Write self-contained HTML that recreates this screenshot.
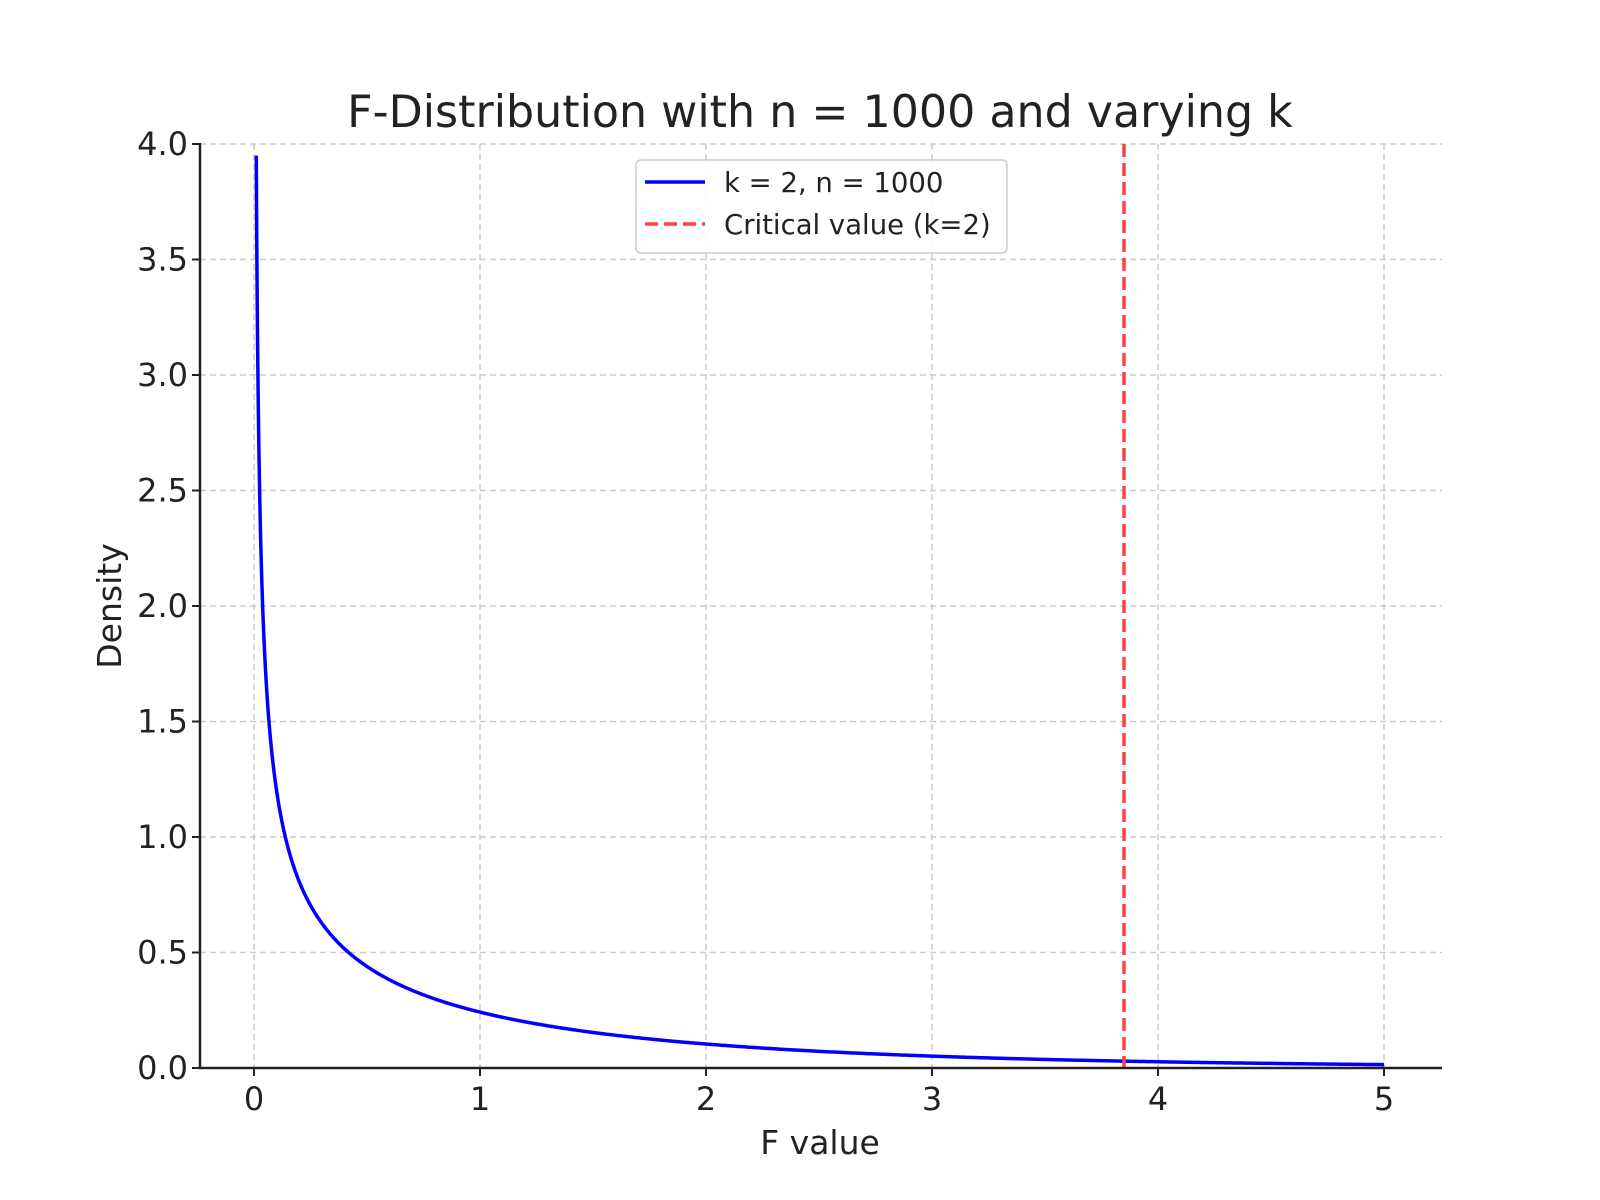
<!DOCTYPE html>
<html><head><meta charset="utf-8"><style>body{margin:0;background:#fff}svg{display:block}text{font-family:"DejaVu Sans","Liberation Sans",sans-serif;fill:#222}</style></head>
<body>
<svg id="s" width="1600" height="1200" viewBox="0 0 1600 1200" xmlns="http://www.w3.org/2000/svg">
<rect width="1600" height="1200" fill="#fff"/>
<g id="grid" stroke="#ccc" stroke-width="1.5" stroke-dasharray="6,4"></g>
<path id="curve" fill="none" stroke="#0000ff" stroke-width="3.5"/>
<line x1="1124" y1="144" x2="1124" y2="1068" stroke="#ff4040" stroke-width="3.5" stroke-dasharray="13,6"/>
<g stroke="#222" stroke-width="2.5" fill="none">
<line x1="200" y1="143" x2="200" y2="1069"/>
<line x1="199" y1="1068" x2="1442" y2="1068"/>
</g>
<g id="ticks" stroke="#222" stroke-width="2"></g>
<g id="labels" font-size="32"></g>
<text x="820" y="127" font-size="44.3" text-anchor="middle" fill="#333">F-Distribution with n = 1000 and varying k</text>
<text x="820" y="1154" font-size="33" text-anchor="middle">F value</text>
<text transform="translate(121,606) rotate(-90)" font-size="33" text-anchor="middle">Density</text>
<rect x="636" y="160" width="371" height="93" rx="5" fill="#fff" fill-opacity="0.85" stroke="#ccc" stroke-width="1.5"/>
<line x1="645" y1="182" x2="705" y2="182" stroke="#0000ff" stroke-width="3.5"/>
<line x1="645" y1="224" x2="705" y2="224" stroke="#ff4040" stroke-width="3.5" stroke-dasharray="13,6"/>
<text x="724" y="192" font-size="27.5" fill="#333">k = 2, n = 1000</text>
<text x="724" y="234" font-size="27.5" fill="#333">Critical value (k=2)</text>
</svg>
<script>
var NS="http://www.w3.org/2000/svg";
function X(v){return 254+226*v}function Y(v){return 1068-231*v}
var g=document.getElementById('grid'),t=document.getElementById('ticks'),l=document.getElementById('labels');
function el(p,tag,a,txt){var e=document.createElementNS(NS,tag);for(var k in a)e.setAttribute(k,a[k]);if(txt!=null)e.textContent=txt;p.appendChild(e);}
for(var i=0;i<=5;i++){var x=X(i);el(g,'line',{x1:x,y1:144,x2:x,y2:1068});el(t,'line',{x1:x,y1:1068,x2:x,y2:1076});el(l,'text',{x:x,y:1110,'text-anchor':'middle'},String(i));}
for(var j=0;j<=8;j++){var v=j*0.5,y=Y(v);el(g,'line',{x1:200,y1:y,x2:1442,y2:y});el(t,'line',{x1:192,y1:y,x2:200,y2:y});el(l,'text',{x:188,y:y+11,'text-anchor':'end'},v.toFixed(1));}
var d="";for(var k=0;k<=600;k++){var x=0.0101+(5-0.0101)*Math.pow(k/600,1.6);var p=Math.exp(-x/2)/Math.sqrt(2*Math.PI*x);d+=(k?"L":"M")+X(x).toFixed(2)+","+Y(p).toFixed(2);}
document.getElementById('curve').setAttribute('d',d);
</script>
</body></html>
